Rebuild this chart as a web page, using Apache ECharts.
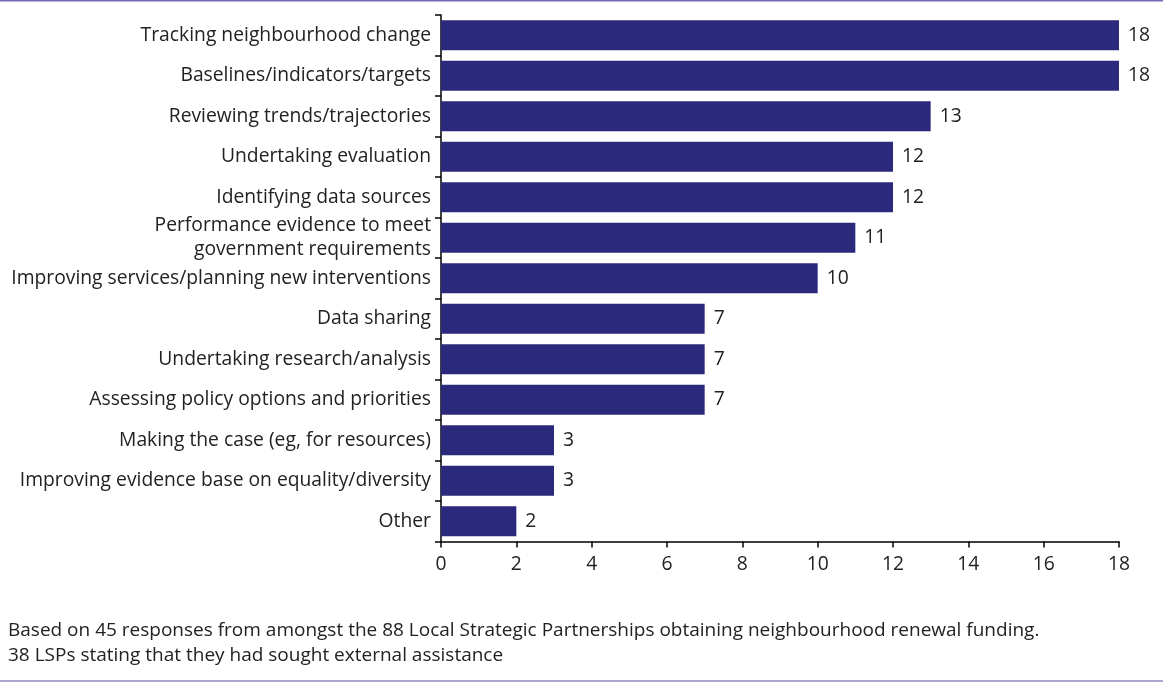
<!DOCTYPE html>
<html><head><meta charset="utf-8">
<script src="https://cdn.jsdelivr.net/npm/echarts@6/dist/echarts.min.js"></script>
<style>html,body{margin:0;padding:0;background:#fff}#c{width:1163px;height:682px}</style>
</head><body><div id="c"></div>
<script>
const categories = [
  "Tracking neighbourhood change",
  "Baselines/indicators/targets",
  "Reviewing trends/trajectories",
  "Undertaking evaluation",
  "Identifying data sources",
  "Performance evidence to meet\ngovernment requirements",
  "Improving services/planning new interventions",
  "Data sharing",
  "Undertaking research/analysis",
  "Assessing policy options and priorities",
  "Making the case (eg, for resources)",
  "Improving evidence base on equality/diversity",
  "Other"
];
const values = [18, 18, 13, 12, 12, 11, 10, 7, 7, 7, 3, 3, 2];
const xTicks = [0, 2, 4, 6, 8, 10, 12, 14, 16, 18];
const footnote = [
  "Based on 45 responses from amongst the 88 Local Strategic Partnerships obtaining neighbourhood renewal funding.",
  "38 LSPs stating that they had sought external assistance"
];

const FONT = '"Open Sans", "Noto Sans", sans-serif';
const chart = echarts.init(document.getElementById('c'), null, {renderer: 'canvas'});
chart.setOption({
  animation: false,
  grid: {left: 441, right: 44, top: 15, height: 526.5, containLabel: false},
  xAxis: {
    type: 'value', min: 0, max: 18, interval: 2,
    splitLine: {show: false},
    axisLine: {show: true, lineStyle: {color: '#000', width: 1.5}},
    axisTick: {show: true, length: 6, lineStyle: {color: '#000', width: 1.5}},
    axisLabel: {color: '#222', fontSize: 19.3, fontFamily: FONT, margin: 14,
      formatter: v => xTicks.includes(v) ? String(v) : ''}
  },
  yAxis: {
    type: 'category', data: categories, inverse: true,
    axisLine: {show: true, lineStyle: {color: '#000', width: 1.5}},
    axisTick: {show: true, length: 6, alignWithLabel: false, lineStyle: {color: '#000', width: 1.5}},
    axisLabel: {color: '#222', fontSize: 19.3, fontFamily: FONT, margin: 10, lineHeight: 24, align: 'right'}
  },
  series: [{
    type: 'bar', data: values, barCategoryGap: '26%',
    itemStyle: {color: '#2b297c'},
    label: {show: true, position: 'right', distance: 9, color: '#222', fontSize: 19.3, fontFamily: FONT}
  }],
  graphic: [
    {type: 'rect', shape: {x: 0, y: 0, width: 1163, height: 1.5}, style: {fill: '#6e6ab3'}},
    {type: 'rect', shape: {x: 0, y: 680, width: 1163, height: 2}, style: {fill: '#a9a7cf'}},
    {type: 'text', left: 8, top: 618, style: {text: footnote.join('\n'), fill: '#222', fontSize: 19, fontFamily: FONT, lineHeight: 25}}
  ]
});
</script></body></html>
